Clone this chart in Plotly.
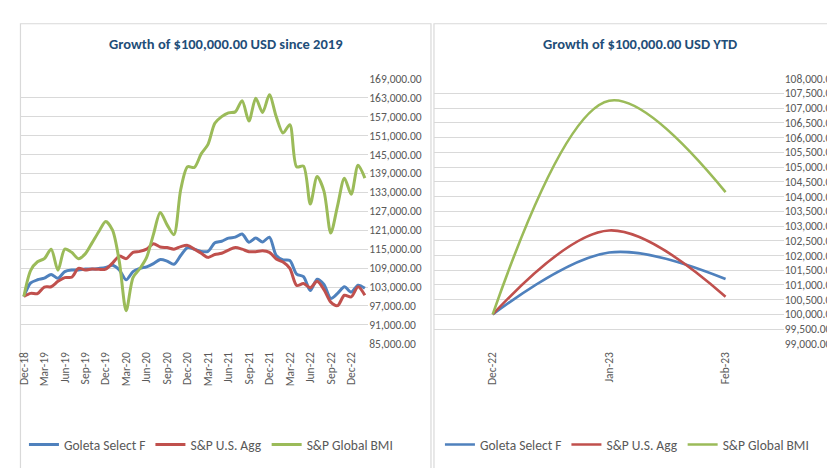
import plotly.graph_objects as go

# ---------------- data ----------------
months = ["Dec-18", "Jan-19", "Feb-19", "Mar-19", "Apr-19", "May-19", "Jun-19", "Jul-19", "Aug-19", "Sep-19",
          "Oct-19", "Nov-19", "Dec-19", "Jan-20", "Feb-20", "Mar-20", "Apr-20", "May-20", "Jun-20", "Jul-20",
          "Aug-20", "Sep-20", "Oct-20", "Nov-20", "Dec-20", "Jan-21", "Feb-21", "Mar-21", "Apr-21", "May-21",
          "Jun-21", "Jul-21", "Aug-21", "Sep-21", "Oct-21", "Nov-21", "Dec-21", "Jan-22", "Feb-22", "Mar-22",
          "Apr-22", "May-22", "Jun-22", "Jul-22", "Aug-22", "Sep-22", "Oct-22", "Nov-22", "Dec-22", "Jan-23",
          "Feb-23"]
month_ticks = ["Dec-18", "Mar-19", "Jun-19", "Sep-19", "Dec-19", "Mar-20", "Jun-20", "Sep-20", "Dec-20",
               "Mar-21", "Jun-21", "Sep-21", "Dec-21", "Mar-22", "Jun-22", "Sep-22", "Dec-22"]

goleta = [100000, 104300, 105300, 105800, 107000, 105800, 107900, 108400, 108400, 108700,
          108700, 108900, 109200, 109900, 108400, 105300, 107900, 108900, 109400, 110400,
          111700, 111200, 110200, 113000, 115500, 115000, 114300, 114300, 117000, 117500,
          118500, 118800, 119800, 117200, 118500, 117300, 118800, 113000, 111600, 111400,
          107100, 106300, 101900, 105500, 103800, 99400, 101000, 103100, 101400, 103600,
          102600]
us_agg = [100000, 101000, 100900, 103000, 103100, 104800, 106000, 106100, 108900, 108400,
          108700, 108600, 108700, 110600, 112800, 112000, 114000, 114300, 115000, 116700,
          115700, 115500, 115000, 115800, 116200, 115000, 113700, 112400, 113300, 113700,
          114700, 115500, 115000, 114200, 114200, 114500, 114000, 111900, 110900, 108900,
          103500, 104100, 102800, 104800, 102200, 98200, 97100, 100400, 99900, 103100,
          100400]
global_bmi = [100000, 108300, 111000, 112000, 115000, 108300, 115000, 114000, 112000, 113500,
              117000, 120600, 123800, 121000, 111000, 95500, 106000, 108800, 112400, 119700,
              126600, 122700, 119600, 133900, 141100, 140900, 145200, 148200, 154900, 157000,
              158200, 158500, 162000, 155600, 162800, 158300, 163900, 157000, 151800, 154400,
              141100, 141300, 129300, 138000, 133400, 120100, 128800, 137500, 132400, 141600,
              137500]

ytd_months = ["Dec-22", "Jan-23", "Feb-23"]
ytd_goleta = [100000, 102100, 101200]
ytd_us_agg = [100000, 102850, 100600]
ytd_global_bmi = [100000, 107250, 104150]

series_names = ["Goleta Select F", "S&P U.S. Agg", "S&P Global BMI"]
colors = ["#4F81BD", "#C0504D", "#9BBB59"]

W, H = 835, 468
FONT = "Calibri, Carlito, Lato, sans-serif"
GRAY = "#595959"


def px(x):
    return x / W


def py(y):
    return (H - y) / H


fig = go.Figure()

for name, vals, col in zip(series_names, [goleta, us_agg, global_bmi], colors):
    fig.add_trace(go.Scatter(x=months, y=vals, name=name, mode="lines",
                             line=dict(color=col, width=3, shape="spline", smoothing=0.8),
                             xaxis="x", yaxis="y", legend="legend"))

for name, vals, col in zip(series_names, [ytd_goleta, ytd_us_agg, ytd_global_bmi], colors):
    fig.add_trace(go.Scatter(x=ytd_months, y=vals, name=name, mode="lines",
                             line=dict(color=col, width=2.6, shape="spline", smoothing=1),
                             xaxis="x2", yaxis="y2", legend="legend2"))

ydom = [py(339), py(65.7)]

common_y = dict(side="right", showgrid=True, gridcolor="#D9D9D9", gridwidth=1, zeroline=False,
                tickformat=",.2f", tickfont=dict(family=FONT, size=11.5, color=GRAY),
                showline=False, fixedrange=True)
common_x = dict(type="category", showgrid=False, zeroline=False, showline=False, tickangle=-90,
                tickfont=dict(family=FONT, size=11.5, color=GRAY), ticklabelstandoff=5, fixedrange=True)

fig.update_layout(
    width=W, height=H,
    margin=dict(l=0, r=0, t=0, b=0),
    paper_bgcolor="white", plot_bgcolor="white",
    showlegend=True,
    xaxis=dict(domain=[px(8.5), px(358)], range=[-0.5, len(months) - 0.5],
               tickmode="array", tickvals=month_ticks, ticktext=month_ticks, **common_x),
    yaxis=dict(domain=ydom, range=[85000, 169000], tick0=85000, dtick=6000, anchor="x",
               ticklabelstandoff=0, **common_y),
    xaxis2=dict(domain=[px(424.5), px(775.5)], range=[-0.5, 2.5], anchor="y2", **common_x),
    yaxis2=dict(domain=ydom, range=[99000, 108000], tick0=99000, dtick=500, anchor="x2",
                ticklabelstandoff=0, **common_y),
    legend=dict(orientation="h", x=px(12), y=py(443), xanchor="left", yanchor="middle",
                font=dict(family=FONT, size=13.5, color=GRAY), bgcolor="rgba(0,0,0,0)",
                itemwidth=30),
    legend2=dict(orientation="h", x=px(430), y=py(443), xanchor="left", yanchor="middle",
                 font=dict(family=FONT, size=13.5, color=GRAY), bgcolor="rgba(0,0,0,0)",
                 itemwidth=30),
    annotations=[
        dict(text="<b>Growth of $100,000.00 USD since 2019</b>", x=px(215), y=py(30),
             xref="paper", yref="paper", showarrow=False, xanchor="center", yanchor="middle",
             font=dict(family=FONT, size=14.5, color="#1F4E79")),
        dict(text="<b>Growth of $100,000.00 USD YTD</b>", x=px(631), y=py(30),
             xref="paper", yref="paper", showarrow=False, xanchor="center", yanchor="middle",
             font=dict(family=FONT, size=14.5, color="#1F4E79")),
    ],
    shapes=[
        dict(type="rect", xref="paper", yref="paper", x0=px(8.5), x1=px(421), y0=py(475), y1=py(9),
             line=dict(color="#D9D9D9", width=1.2), layer="below"),
        dict(type="rect", xref="paper", yref="paper", x0=px(424), x1=px(840), y0=py(475), y1=py(9),
             line=dict(color="#D9D9D9", width=1.2), layer="below"),
    ],
)

fig.write_html("out.html")
